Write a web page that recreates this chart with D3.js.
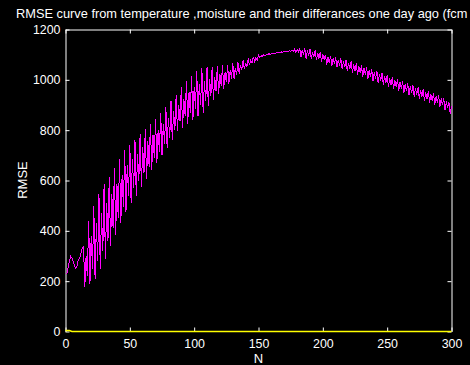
<!DOCTYPE html>
<html><head><meta charset="utf-8">
<script src="https://cdn.jsdelivr.net/npm/d3@7"></script>
<style>html,body{margin:0;padding:0;background:#000;overflow:hidden}</style>
</head><body>
<svg id="c" width="470" height="365"></svg>
<script>
const titleText = "RMSE curve from temperature ,moisture and their differances one day ago (fcm";
const xLabel = "N";
const yLabel = "RMSE";
const xTicks = [0, 50, 100, 150, 200, 250, 300];
const yTicks = [0, 200, 400, 600, 800, 1000, 1200];

// magenta series: RMSE for N = 1..300
const rmse = [
  230,252,278,299,292,278,262,251,262,285,
  292,310,330,
  340,178,300,220, 440,190,380,250, 500,210,430,280, 545,250,470,320,
  585,290,510,360, 612,340,545,410, 650,385,585,450, 685,430,620,495,
  720,475,660,540, 740,510,685,570, 760,540,705,600, 785,575,735,630,
  805,605,755,655, 825,640,780,690, 845,670,800,715, 870,700,825,745,
  890,730,850,770, 915,760,875,800, 940,795,900,835, 970,810,925,855,
  995,825,950,870, 1015,840,970,885, 1035,855,985,900, 1045,870,995,915,
  1050,895,1005,935, 1052,920,1012,955, 1055,945,1022,975, 1058,965,1030,990,
  1060,985,1040,1005, 1065,1005,1048,1020, 1070,1025,1058,1038, 1078,1042,1068,1052,
  1085,1058,1078,1066, 1092,1072,1088,1078, 1098,1088,1096,1092, 1101,1096,1100,1099,
  1104,1101,1104,1103, 1107,1105,1108,1107, 1110,1108,1111,1110, 1113,1111,1114,1113,
  1116,1113,1117,1114, 1122,1108,1120,1112, 1126,1090,1120,1100, 1125,1085,1118,1095,
  1122,1082,1112,1090, 1118,1078,1108,1085, 1112,1072,1102,1080, 1100,1060,1092,1068,
  1096,1055,1086,1062, 1090,1050,1080,1056, 1085,1043,1074,1050, 1080,1035,1068,1044,
  1074,1028,1062,1036, 1066,1020,1054,1028, 1058,1012,1046,1020, 1050,1004,1038,1012,
  1042,996,1030,1004, 1034,988,1022,996, 1026,980,1014,988, 1018,972,1006,980,
  1010,964,998,972, 1002,956,990,964, 994,948,982,956, 986,940,974,948,
  978,932,966,940, 970,924,958,932, 962,916,950,924, 954,908,942,916,
  946,900,934,908, 938,892,926,900, 926,880,914,888,
  912,866,895
];
// yellow series (flat near zero)
const yellowN = [0, 3, 5, 150, 300];
const yellowV = [4, 4, 0, 0, 0];

const svg = d3.select("#c");
svg.append("rect").attr("width", 470).attr("height", 365).attr("fill", "#000");

const x = d3.scaleLinear().domain([0, 300]).range([65.5, 451.5]);
const y = d3.scaleLinear().domain([0, 1200]).range([331.5, 29.5]);
const font = "'Liberation Sans', Arial, Helvetica, sans-serif";
const fmt = d3.format("d");

// axes (inward ticks on all four sides)
const gB = svg.append("g").attr("transform", `translate(0,${y(0)})`)
  .call(d3.axisBottom(x).tickValues(xTicks).tickSize(-4).tickSizeOuter(0).tickPadding(8).tickFormat(fmt));
const gT = svg.append("g").attr("transform", `translate(0,${y(1200)})`)
  .call(d3.axisTop(x).tickValues(xTicks).tickSize(-4).tickSizeOuter(0).tickFormat(""));
const gL = svg.append("g").attr("transform", `translate(${x(0)},0)`)
  .call(d3.axisLeft(y).tickValues(yTicks).tickSize(-4).tickSizeOuter(0).tickPadding(5).tickFormat(fmt));
const gR = svg.append("g").attr("transform", `translate(${x(300)},0)`)
  .call(d3.axisRight(y).tickValues(yTicks).tickSize(-4).tickSizeOuter(0).tickFormat(""));
[gB, gT, gL, gR].forEach(g => {
  g.select(".domain").attr("stroke", "#fff").attr("stroke-width", 1);
  g.selectAll(".tick line").attr("stroke", "#fff");
  g.selectAll(".tick text").attr("fill", "#fff").style("font-family", font).style("font-size", "12.4px");
});
// the yellow series lies on the bottom edge and hides it
gB.select(".domain").attr("stroke", "none");

// series (aliased, like the original screen plot)
const line = d3.line().x(d => x(d[0])).y(d => y(d[1]));
svg.append("path")
  .datum(rmse.map((v, i) => [i + 1, v]))
  .attr("d", line).attr("fill", "none").attr("stroke", "#ff00ff").attr("stroke-width", 1)
  .attr("shape-rendering", "crispEdges");
svg.append("path")
  .datum(yellowN.map((n, i) => [n, yellowV[i]]))
  .attr("d", line).attr("fill", "none").attr("stroke", "#ffff00").attr("stroke-width", 1.5);

// texts
svg.append("text").attr("x", 16).attr("y", 18).attr("fill", "#fff")
  .style("font-family", font).style("font-size", "12.8px").text(titleText);
svg.append("text").attr("x", 258.5).attr("y", 362.5).attr("fill", "#fff").attr("text-anchor", "middle")
  .style("font-family", font).style("font-size", "13px").text(xLabel);
svg.append("text").attr("transform", "translate(27,180) rotate(-90)").attr("fill", "#fff").attr("text-anchor", "middle")
  .style("font-family", font).style("font-size", "13px").text(yLabel);
</script>
</body></html>
